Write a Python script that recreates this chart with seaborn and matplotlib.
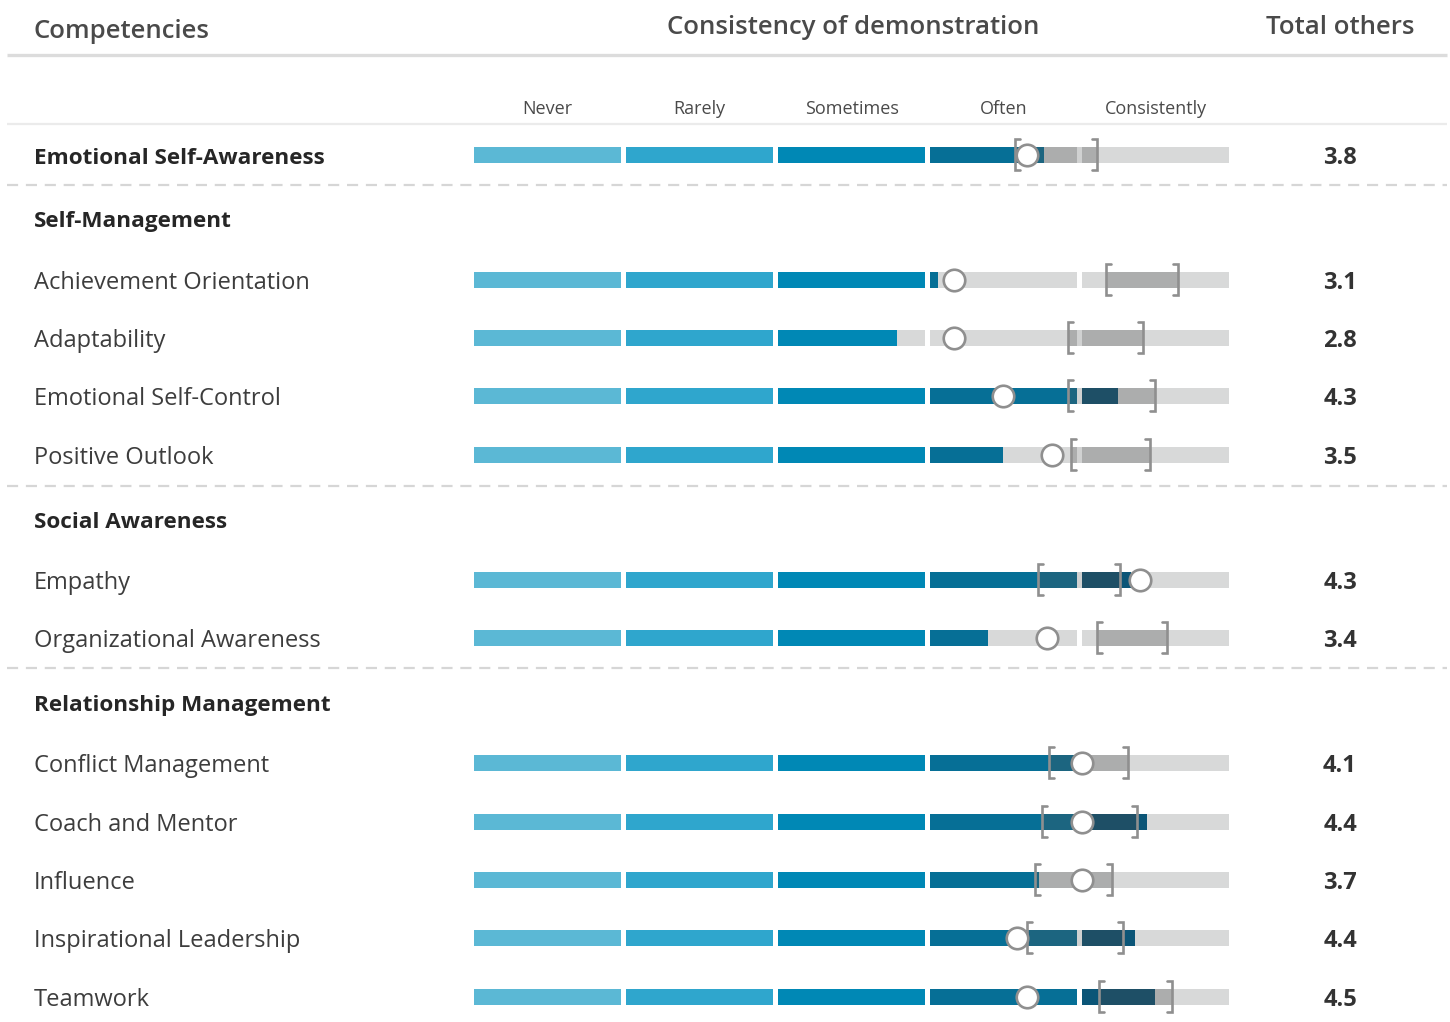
import matplotlib
matplotlib.use("Agg")
import matplotlib.pyplot as plt
import seaborn as sns
import pandas as pd
import numpy as np

# ---------------- data ----------------
scale_labels = ["Never", "Rarely", "Sometimes", "Often", "Consistently"]

competencies = ["Emotional Self-Awareness",
                "Achievement Orientation", "Adaptability", "Emotional Self-Control", "Positive Outlook",
                "Empathy", "Organizational Awareness",
                "Conflict Management", "Coach and Mentor", "Influence", "Inspirational Leadership", "Teamwork"]
clusters = ["Self-Management", "Social Awareness", "Relationship Management"]

total_others_label = ["3.8", "3.1", "2.8", "4.3", "3.5", "4.3", "3.4", "4.1", "4.4", "3.7", "4.4", "4.5"]
others_fill = [3.75, 3.05, 2.78, 4.24, 3.48, 4.32, 3.38, 4.05, 4.43, 3.72, 4.35, 4.48]
self_rating = [3.64, 3.16, 3.16, 3.48, 3.80, 4.38, 3.77, 4.00, 4.00, 4.00, 3.57, 3.64]
range_low = [3.56, 4.16, 3.91, 3.91, 3.93, 3.71, 4.10, 3.78, 3.74, 3.69, 3.64, 4.11]
range_high = [4.10, 4.63, 4.40, 4.48, 4.45, 4.25, 4.56, 4.30, 4.36, 4.20, 4.27, 4.59]

# ---------------- layout ----------------
W, H = 1450, 1022
X0, UNIT = 474, 152.0          # pixel of value 0, pixels per unit
SEG_W = 147 / 152.0            # segment length in units (gap between)
TY = 3                         # text vertical nudge (px)


def px(p):
    return (p - X0) / UNIT


row_y = [155, 280, 338, 396, 455, 580, 638, 763, 822, 880, 938, 997]
cluster_y = [219, 519, 702]
dash_y = [185, 486, 668]
BAR_H = 16

seg_colors = ["#5bb8d5", "#2fa6cd", "#0088b5", "#066f96", "#0b5577"]
seg_range_colors = ["#3d8fa8", "#2a7fa0", "#1a6f90", "#1c6580", "#1e4f66"]
GREY_LIGHT = "#d8d9d9"
GREY_MID = "#acadad"
GAP_GREY = "#d0d1d1"
BRACKET = "#8f8f8f"

sns.set_theme(style="white")
plt.rcParams["font.family"] = ["Open Sans", "DejaVu Sans"]

fig = plt.figure(figsize=(W / 100, H / 100), dpi=100)
ax = fig.add_axes([0, 0, 1, 1])
ax.set_xlim(px(0), px(W))
ax.set_ylim(H, 0)
ax.axis("off")

# header
TXT_HEAD = "#4a4a4a"
ax.text(px(34), 28 + TY, "Competencies", fontsize=18.5, color=TXT_HEAD, fontweight="semibold",
        va="center", ha="left")
ax.text(px(853), 25 + TY, "Consistency of demonstration", fontsize=18.5, color=TXT_HEAD,
        fontweight="semibold", va="center", ha="center")
ax.text(px(1340), 25 + TY, "Total others", fontsize=18.5, color=TXT_HEAD, fontweight="semibold",
        va="center", ha="center")
ax.plot([px(7), px(1447)], [55, 55], color="#dcdcdc", lw=2.4, solid_capstyle="butt")
ax.plot([px(7), px(1447)], [124, 124], color="#ebebeb", lw=1.6, solid_capstyle="butt")

for k, lab in enumerate(scale_labels):
    ax.text(k + SEG_W / 2, 106 + TY, lab, fontsize=13, color="#4a4a4a", ha="center", va="center")

for y in dash_y:
    ax.plot([px(7), px(1447)], [y, y], color="#d6d6d6", lw=1.6, linestyle=(0, (5, 3.5)))

for name, y in zip(clusters, cluster_y):
    ax.text(px(34), y + TY, name, fontsize=16.2, fontweight="bold", color="#262626",
            va="center", ha="left")

# bars
for i, name in enumerate(competencies):
    y = row_y[i]
    bold = (i == 0)
    ax.text(px(34), y + TY, name, fontsize=16.2 if bold else 17,
            color="#262626" if bold else "#3d3d3d",
            fontweight="bold" if bold else "normal", va="center", ha="left")
    ax.text(px(1340), y + TY, total_others_label[i], fontsize=17, color="#333333",
            fontweight="bold", va="center", ha="center")

    f, lo, hi = others_fill[i], range_low[i], range_high[i]
    # light band filling segment gaps inside the range
    ax.barh(y, hi - lo, left=lo, height=BAR_H, color=GAP_GREY, linewidth=0)
    for k in range(5):
        s, e = k, k + SEG_W
        cuts = sorted({s, e} | {c for c in (f, lo, hi) if s < c < e})
        for a, b in zip(cuts[:-1], cuts[1:]):
            m = (a + b) / 2
            filled = m < f
            inrange = lo < m < hi
            if filled and inrange:
                col = seg_range_colors[k]
            elif filled:
                col = seg_colors[k]
            elif inrange:
                col = GREY_MID
            else:
                col = GREY_LIGHT
            ax.barh(y, b - a, left=a, height=BAR_H, color=col, linewidth=0)

    # brackets
    top, bot = y - 15.5, y + 15.5
    serif = 5 / UNIT
    ax.plot([lo + serif, lo, lo, lo + serif], [top, top, bot, bot], color=BRACKET, lw=1.9,
            solid_joinstyle="miter", zorder=4)
    ax.plot([hi - serif, hi, hi, hi - serif], [top, top, bot, bot], color=BRACKET, lw=1.9,
            solid_joinstyle="miter", zorder=4)

# self-rating circles
df_self = pd.DataFrame({"self": self_rating, "y": row_y})
sns.scatterplot(data=df_self, x="self", y="y", ax=ax, s=240, color="white",
                edgecolor=BRACKET, linewidth=1.9, zorder=5, legend=False)
ax.set_xlim(px(0), px(W))
ax.set_ylim(H, 0)
ax.axis("off")

fig.savefig("out.png", dpi=100)
